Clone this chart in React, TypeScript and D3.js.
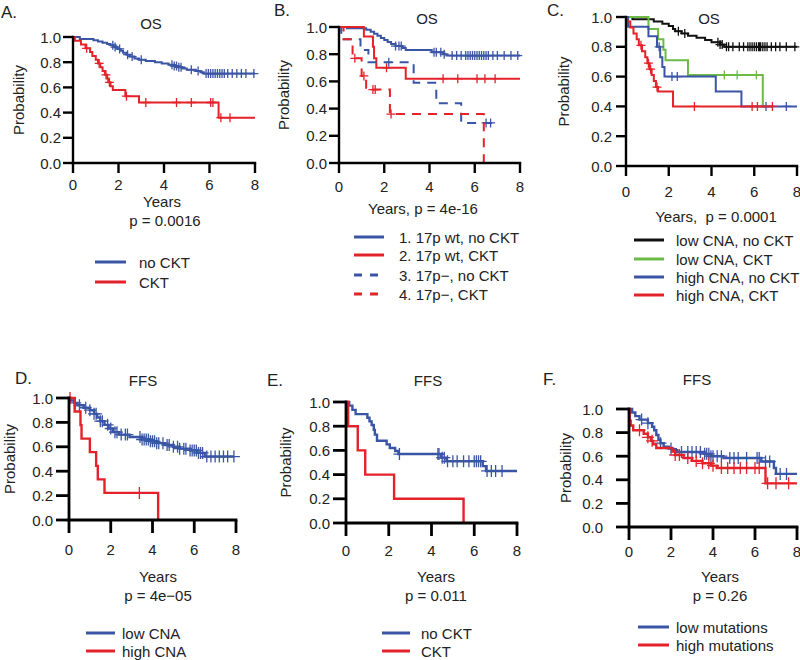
import React from "react";
import * as d3 from "d3";

const BLUE = "#3a55a5";
const RED = "#e3222a";
const GREEN = "#6cbb46";
const BLACK = "#111111";

const xTickValues = [0, 2, 4, 6, 8];
const yTickValues = [0, 0.2, 0.4, 0.6, 0.8, 1.0];

// ---------- Panel A: OS, no CKT vs CKT ----------
const aNoCktEvents: [number, number][] = [[0.3,0.985],[0.9,0.975],[1.1,0.965],[1.3,0.955],[1.5,0.945],[1.65,0.935],[1.8,0.92],[1.95,0.905],[2.1,0.89],[2.2,0.875],[2.35,0.86],[2.5,0.845],[2.7,0.83],[2.9,0.82],[3.2,0.81],[3.6,0.8],[3.9,0.79],[4.2,0.78],[4.4,0.77],[4.6,0.76],[4.8,0.75],[5.0,0.74],[5.4,0.73],[5.6,0.72],[5.75,0.71]];
const aNoCktCensor = [1.75,1.85,2.05,2.4,2.6,3.0,4.35,4.45,4.55,4.65,4.75,5.2,5.5,5.85,5.95,6.05,6.15,6.25,6.35,6.45,6.55,6.65,6.8,7.0,7.2,7.4,7.6,7.95];
const aNoCktEnd = 8;
const aCktEvents: [number, number][] = [[0.08,0.97],[0.35,0.94],[0.55,0.91],[0.75,0.88],[0.85,0.85],[1.0,0.82],[1.1,0.79],[1.2,0.76],[1.3,0.73],[1.4,0.7],[1.5,0.67],[1.55,0.64],[1.65,0.61],[1.75,0.58],[2.3,0.53],[2.9,0.48],[6.4,0.36]];
const aCktCensor = [0.6,1.15,1.45,1.6,2.35,3.2,4.55,5.2,6.05,6.15,6.5,6.9];
const aCktEnd = 8;

// ---------- Panel B: OS by 17p and CKT ----------
const b1Events: [number, number][] = [[0.35,0.99],[1.2,0.98],[1.4,0.965],[1.55,0.95],[1.7,0.935],[1.85,0.92],[2.0,0.905],[2.15,0.89],[2.3,0.875],[2.5,0.86],[2.8,0.845],[2.95,0.83],[4.1,0.815],[4.6,0.8],[4.75,0.79]];
const b1Censor = [2.5,2.65,2.75,4.2,4.3,4.5,4.65,5.0,5.2,5.4,5.6,5.7,5.8,5.9,6.0,6.1,6.2,6.3,6.4,6.5,6.6,6.8,7.0,7.3,7.6,7.9];
const b1End = 8;
const b2Events: [number, number][] = [[1.1,0.93],[1.5,0.855],[1.55,0.77],[1.65,0.7],[2.95,0.62]];
const b2Censor = [2.1,4.6,5.25,6.1,6.45,6.9];
const b2End = 8;
const b3Events: [number, number][] = [[0.1,0.91],[0.95,0.83],[1.3,0.74],[3.3,0.59],[4.3,0.44],[5.4,0.295]];
const b3Censor = [2.2,6.5,6.7];
const b3End = 7.0;
const b4Events: [number, number][] = [[0.2,0.91],[0.6,0.77],[1.0,0.64],[1.2,0.54],[2.25,0.36],[6.4,0.0]];
const b4Censor = [0.7,1.1,1.5,1.6,2.3];
const b4End = 6.4;

// ---------- Panel C: OS by CNA and CKT ----------
const cLowNoEvents: [number, number][] = [[0.3,0.985],[1.3,0.97],[1.7,0.955],[2.0,0.94],[2.2,0.92],[2.3,0.905],[2.6,0.89],[2.9,0.875],[3.3,0.86],[3.7,0.845],[4.0,0.83],[4.4,0.815],[4.6,0.8]];
const cLowNoCensor = [2.45,2.75,4.3,4.4,4.5,4.7,4.8,5.0,5.3,5.5,5.7,5.8,5.9,6.0,6.1,6.2,6.25,6.3,6.4,6.5,6.6,6.8,7.0,7.2,7.5,7.9];
const cLowNoEnd = 8;
const cLowCktEvents: [number, number][] = [[1.05,0.92],[1.5,0.85],[1.75,0.78],[1.85,0.71],[2.9,0.61],[6.4,0.4]];
const cLowCktCensor = [4.6,5.2,6.1];
const cLowCktEnd = 6.6;
const cHighNoEvents: [number, number][] = [[0.1,0.935],[1.05,0.87],[1.45,0.8],[1.6,0.73],[1.7,0.665],[1.8,0.6],[4.2,0.5],[5.4,0.4]];
const cHighNoCensor = [1.55,2.15,2.4,6.55,7.5];
const cHighNoEnd = 8;
const cHighCktEvents: [number, number][] = [[0.05,0.97],[0.2,0.93],[0.35,0.89],[0.5,0.85],[0.6,0.81],[0.75,0.77],[0.9,0.73],[1.0,0.69],[1.1,0.65],[1.2,0.61],[1.3,0.57],[1.4,0.53],[1.5,0.5],[2.2,0.4]];
const cHighCktCensor = [0.7,1.05,1.15,1.45,3.2,5.9,6.15,6.85];
const cHighCktEnd = 6.9;

// ---------- Panel D: FFS by CNA ----------
const dLowEvents: [number, number][] = [[0.1,0.98],[0.25,0.96],[0.4,0.94],[0.7,0.92],[1.0,0.9],[1.2,0.87],[1.35,0.84],[1.5,0.81],[1.7,0.78],[1.9,0.75],[2.1,0.72],[2.4,0.7],[2.9,0.68],[3.5,0.66],[3.9,0.645],[4.2,0.63],[4.6,0.615],[5.0,0.6],[5.3,0.585],[5.8,0.57],[6.2,0.55],[6.5,0.52]];
const dLowCensor = [0.3,0.5,0.8,1.0,1.2,1.3,1.5,1.6,1.85,2.0,2.2,2.3,2.5,2.7,2.8,3.4,3.5,3.6,3.7,3.8,3.9,4.0,4.1,4.2,4.3,4.5,4.7,4.8,5.0,5.2,5.3,5.5,5.6,5.8,5.9,6.0,6.1,6.2,6.3,6.4,6.6,6.8,7.0,7.2,7.4,7.6,7.9];
const dLowEnd = 7.9;
const dHighEvents: [number, number][] = [[0.27,0.889],[0.55,0.778],[0.6,0.667],[1.0,0.556],[1.3,0.444],[1.38,0.333],[1.7,0.222],[4.27,0]];
const dHighCensor = [0.05,3.37];
const dHighEnd = 4.27;

// ---------- Panel E: FFS by CKT ----------
const eNoCktEvents: [number, number][] = [[0.15,0.97],[0.3,0.935],[0.45,0.9],[1.0,0.87],[1.1,0.84],[1.2,0.81],[1.3,0.77],[1.35,0.73],[1.45,0.68],[1.9,0.65],[2.05,0.62],[2.3,0.595],[2.45,0.57],[4.45,0.54],[4.7,0.51],[6.4,0.47],[6.55,0.43]];
const eNoCktCensor = [2.5,4.3,4.35,4.5,4.6,4.75,5.0,5.2,5.5,5.75,6.0,6.1,6.2,6.3,6.6,6.8,7.0,7.3];
const eNoCktEnd = 8;
const eCktEvents: [number, number][] = [[0.1,0.8],[0.55,0.6],[0.9,0.4],[2.25,0.2],[5.5,0.0]];
const eCktCensor: number[] = [];
const eCktEnd = 5.5;

// ---------- Panel F: FFS by mutations ----------
const fLowEvents: [number, number][] = [[0.15,0.97],[0.3,0.94],[0.5,0.91],[0.9,0.88],[1.1,0.85],[1.2,0.82],[1.3,0.78],[1.4,0.74],[1.5,0.71],[1.65,0.68],[1.9,0.665],[2.1,0.65],[2.3,0.635],[3.6,0.62],[3.9,0.6],[4.5,0.585],[6.3,0.555],[6.9,0.5],[7.0,0.45]];
const fLowCensor = [0.6,0.9,1.5,2.0,2.5,2.8,3.0,3.2,3.4,3.6,3.7,3.8,3.9,4.0,4.2,4.4,4.8,5.0,5.2,5.6,6.1,6.2,6.5,6.7,7.2,7.5];
const fLowEnd = 8;
const fHighEvents: [number, number][] = [[0.03,0.9],[0.08,0.86],[0.2,0.82],[0.7,0.79],[0.9,0.76],[1.05,0.73],[1.15,0.7],[1.3,0.67],[2.05,0.64],[2.2,0.61],[2.6,0.585],[3.0,0.56],[3.5,0.54],[3.9,0.52],[4.2,0.5],[6.5,0.37]];
const fHighCensor = [0.5,0.9,1.1,2.2,2.4,2.8,3.2,3.5,3.8,4.0,4.4,4.7,5.0,5.3,5.6,6.0,6.2,6.6,7.0,7.6];
const fHighEnd = 8;

type Curve = { events: [number, number][]; censor: number[]; end: number; color: string; dash?: string };
type TextItem = { x: number; y: number; text: string };
type Layout = {
  left: number; right: number; top: number; bottom: number;
  tick: number; axisW: number; lineW: number; mark: number;
  letter: TextItem; title: TextItem; probX: number; yLabelRight: number; xTickY: number;
  xLabels: TextItem[];
  legend: { x1: number; x2: number; tx: number; ys: number[] };
};

const FONT = "'Liberation Sans', Arial, Helvetica, sans-serif";
const TEXT = "#222";
const FS = 15;

function survAt(events: [number, number][], t: number) {
  let s = 1;
  for (const [et, es] of events) if (et <= t) s = es;
  return s;
}

function KMPanel({ layout, curves, legend }: { layout: Layout; curves: Curve[]; legend: string[] }) {
  const L = layout;
  const x = d3.scaleLinear().domain([0, 8]).range([L.left, L.right]);
  const y = d3.scaleLinear().domain([0, 1]).range([L.bottom, L.top]);
  const line = d3.line<[number, number]>().x(d => x(d[0])).y(d => y(d[1])).curve(d3.curveStepAfter);
  const fmt = d3.format(".1f");
  const probY = (L.top + L.bottom) / 2;
  return (
    <g fontFamily={FONT}>
      <text x={L.letter.x} y={L.letter.y} fontSize={17} fill={TEXT} dominantBaseline="central">{L.letter.text}</text>
      <text x={L.title.x} y={L.title.y} fontSize={FS} fill={TEXT} textAnchor="middle" dominantBaseline="central">{L.title.text}</text>
      <text transform={`translate(${L.probX},${probY}) rotate(-90)`} fontSize={FS} fill={TEXT} textAnchor="middle" dominantBaseline="central">Probability</text>
      {curves.map((c, i) => {
        const last = c.events.length ? c.events[c.events.length - 1][1] : 1;
        const pts: [number, number][] = [[0, 1], ...c.events, [c.end, last]];
        return (
          <g key={i}>
            <path d={line(pts) || ""} fill="none" stroke={c.color} strokeWidth={L.lineW} strokeDasharray={c.dash} />
            {c.censor.map((t, j) => {
              const cx = x(t), cy = y(survAt(c.events, t)), h = L.mark;
              return <path key={j} d={`M${cx - h},${cy}H${cx + h}M${cx},${cy - h}V${cy + h}`} stroke={c.color} strokeWidth={1.3} />;
            })}
          </g>
        );
      })}
      <line x1={L.left} x2={L.left} y1={y(0)} y2={y(1)} stroke="#000" strokeWidth={L.axisW} strokeLinecap="square" />
      {yTickValues.map(v => (
        <g key={v}>
          <line x1={L.left - L.tick} x2={L.left} y1={y(v)} y2={y(v)} stroke="#000" strokeWidth={L.axisW} />
          <text x={L.yLabelRight} y={y(v)} fontSize={FS} fill={TEXT} textAnchor="end" dominantBaseline="central">{fmt(v)}</text>
        </g>
      ))}
      <line x1={x(0)} x2={x(8)} y1={L.bottom} y2={L.bottom} stroke="#000" strokeWidth={L.axisW} strokeLinecap="square" />
      {xTickValues.map(v => (
        <g key={v}>
          <line x1={x(v)} x2={x(v)} y1={L.bottom} y2={L.bottom + L.tick} stroke="#000" strokeWidth={L.axisW} />
          <text x={x(v)} y={L.xTickY} fontSize={FS} fill={TEXT} textAnchor="middle" dominantBaseline="central">{v}</text>
        </g>
      ))}
      {L.xLabels.map((t, i) => (
        <text key={i} x={t.x} y={t.y} fontSize={FS} fill={TEXT} textAnchor="middle" dominantBaseline="central" style={{ whiteSpace: "pre" }}>{t.text}</text>
      ))}
      {legend.map((name, i) => (
        <g key={i}>
          <line x1={L.legend.x1} x2={L.legend.x2} y1={L.legend.ys[i]} y2={L.legend.ys[i]} stroke={curves[i].color} strokeWidth={3} strokeDasharray={curves[i].dash ? "8,8" : undefined} />
          <text x={L.legend.tx} y={L.legend.ys[i]} fontSize={FS} fill={TEXT} dominantBaseline="central">{name}</text>
        </g>
      ))}
    </g>
  );
}

const row1 = { tick: 10, axisW: 2.4, lineW: 2, mark: 4.5 };
const row2 = { tick: 13, axisW: 2.8, lineW: 2.4, mark: 6 };

const layoutA: Layout = { ...row1, left: 73, right: 255, top: 37, bottom: 163,
  letter: { x: 1, y: 12, text: "A." }, title: { x: 151, y: 23, text: "OS" }, probX: 18, yLabelRight: 61, xTickY: 184,
  xLabels: [{ x: 162, y: 201, text: "Years" }, { x: 165, y: 220, text: "p = 0.0016" }],
  legend: { x1: 95, x2: 126, tx: 139, ys: [262, 282] } };
const layoutB: Layout = { ...row1, left: 339, right: 520, top: 27, bottom: 163,
  letter: { x: 274, y: 10, text: "B." }, title: { x: 427, y: 18, text: "OS" }, probX: 283, yLabelRight: 327, xTickY: 186,
  xLabels: [{ x: 423, y: 208, text: "Years, p = 4e-16" }],
  legend: { x1: 354, x2: 384, tx: 399, ys: [237, 255, 275, 294] } };
const layoutC: Layout = { ...row1, left: 626, right: 797, top: 17, bottom: 166,
  letter: { x: 547, y: 10, text: "C." }, title: { x: 709, y: 18, text: "OS" }, probX: 563, yLabelRight: 612, xTickY: 191,
  xLabels: [{ x: 716, y: 216, text: "Years,  p = 0.0001" }],
  legend: { x1: 634, x2: 664, tx: 676, ys: [240, 259, 277, 295] } };
const layoutD: Layout = { ...row2, left: 69, right: 236, top: 398, bottom: 520,
  letter: { x: 15, y: 378, text: "D." }, title: { x: 143, y: 380, text: "FFS" }, probX: 9, yLabelRight: 53, xTickY: 549,
  xLabels: [{ x: 158, y: 576, text: "Years" }, { x: 158, y: 595, text: "p = 4e\u221205" }],
  legend: { x1: 86, x2: 115, tx: 122, ys: [633, 651] } };
const layoutE: Layout = { ...row2, left: 346, right: 517, top: 402, bottom: 523,
  letter: { x: 267, y: 380, text: "E." }, title: { x: 428, y: 380, text: "FFS" }, probX: 285, yLabelRight: 330, xTickY: 550,
  xLabels: [{ x: 436, y: 576, text: "Years" }, { x: 436, y: 595, text: "p = 0.011" }],
  legend: { x1: 382, x2: 410, tx: 421, ys: [633, 651] } };
const layoutF: Layout = { ...row2, left: 629, right: 797, top: 409, bottom: 527,
  letter: { x: 543, y: 379, text: "F." }, title: { x: 697, y: 379, text: "FFS" }, probX: 565, yLabelRight: 603, xTickY: 551,
  xLabels: [{ x: 720, y: 576, text: "Years" }, { x: 720, y: 595, text: "p = 0.26" }],
  legend: { x1: 638, x2: 669, tx: 676, ys: [627, 645] } };

export default function App() {
  const DASH = "9,7";
  return (
    <svg width={800} height={660} style={{ position: "absolute", left: 0, top: 0, background: "#fff" }}>
      <rect width={800} height={660} fill="#fff" />
      <KMPanel layout={layoutA} legend={["no CKT", "CKT"]} curves={[
        { events: aNoCktEvents, censor: aNoCktCensor, end: aNoCktEnd, color: BLUE },
        { events: aCktEvents, censor: aCktCensor, end: aCktEnd, color: RED },
      ]} />
      <KMPanel layout={layoutB} legend={["1. 17p wt, no CKT", "2. 17p wt, CKT", "3. 17p\u2212, no CKT", "4. 17p\u2212, CKT"]} curves={[
        { events: b1Events, censor: b1Censor, end: b1End, color: BLUE },
        { events: b2Events, censor: b2Censor, end: b2End, color: RED },
        { events: b3Events, censor: b3Censor, end: b3End, color: BLUE, dash: DASH },
        { events: b4Events, censor: b4Censor, end: b4End, color: RED, dash: DASH },
      ]} />
      <KMPanel layout={layoutC} legend={["low CNA, no CKT", "low CNA, CKT", "high CNA, no CKT", "high CNA, CKT"]} curves={[
        { events: cLowNoEvents, censor: cLowNoCensor, end: cLowNoEnd, color: BLACK },
        { events: cLowCktEvents, censor: cLowCktCensor, end: cLowCktEnd, color: GREEN },
        { events: cHighNoEvents, censor: cHighNoCensor, end: cHighNoEnd, color: BLUE },
        { events: cHighCktEvents, censor: cHighCktCensor, end: cHighCktEnd, color: RED },
      ]} />
      <KMPanel layout={layoutD} legend={["low CNA", "high CNA"]} curves={[
        { events: dLowEvents, censor: dLowCensor, end: dLowEnd, color: BLUE },
        { events: dHighEvents, censor: dHighCensor, end: dHighEnd, color: RED },
      ]} />
      <KMPanel layout={layoutE} legend={["no CKT", "CKT"]} curves={[
        { events: eNoCktEvents, censor: eNoCktCensor, end: eNoCktEnd, color: BLUE },
        { events: eCktEvents, censor: eCktCensor, end: eCktEnd, color: RED },
      ]} />
      <KMPanel layout={layoutF} legend={["low mutations", "high mutations"]} curves={[
        { events: fLowEvents, censor: fLowCensor, end: fLowEnd, color: BLUE },
        { events: fHighEvents, censor: fHighCensor, end: fHighEnd, color: RED },
      ]} />
    </svg>
  );
}
